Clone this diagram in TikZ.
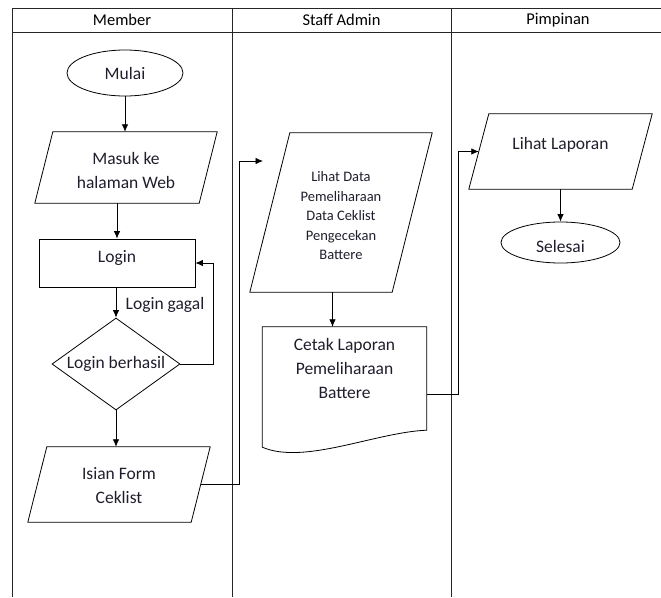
\documentclass[tikz,border=0pt]{standalone}
\usepackage{fontspec}
\setmainfont{Carlito}
\usetikzlibrary{shapes.geometric,arrows.meta}
\definecolor{ink}{RGB}{30,30,45}
% outline of a right-leaning parallelogram over a box node: #1 node, #2 slant
\newcommand\parashape[2]{%
  \draw[line width=0.8pt] (#1.south west) -- ([xshift=-#2]#1.south east)
    -- (#1.north east) -- ([xshift=#2]#1.north west) -- cycle;}
\begin{document}
\begin{tikzpicture}[x=1pt,y=-1pt,
  every node/.style={font=\fontsize{17.5}{24}\selectfont, text=ink, align=center},
  hdr/.style={font=\fontsize{16.5}{20}\selectfont, text=black},
  small/.style={font=\fontsize{14.5}{19.5}\selectfont},
  lane/.style={line width=0.8pt, draw=black!85},
  shp/.style={draw, line width=0.8pt, inner sep=1pt},
  term/.style={shp, ellipse},
  io/.style={rectangle, inner sep=0pt},
  proc/.style={shp, rectangle},
  decide/.style={shp, diamond},
  intext/.style 2 args={label={[yshift=#1]center:#2}},
  arr/.style={line width=0.8pt, -{Latex[length=7.5pt,width=6.5pt]}}
]
\useasboundingbox (0,0) rectangle (661,597);

% swimlane frame
\draw[lane] (12,8) -- (661,8);
\draw[lane] (12,32) -- (661,32);
\draw[lane] (12,8) -- (12,597);
\draw[lane] (232,8) -- (232,597);
\draw[lane] (451,8) -- (451,597);
\node[hdr] (hMember) at (122,20) {Member};
\node[hdr] (hStaff) at (341.5,20) {Staff Admin};
\node[hdr] (hPimpinan) at (558,20) {Pimpinan};

% Member lane
\node[term, minimum width=116pt, minimum height=46pt] (mulai) at (125,73) {Mulai};
\node[io, minimum width=182pt, minimum height=71pt, intext={-2.5pt}{Masuk ke\\halaman Web}] (masuk) at (126,167.5) {};
\parashape{masuk}{18pt}
\node[proc, minimum width=156pt, minimum height=48pt, intext={5pt}{Login}] (login) at (117,263) {};
\node[decide, minimum width=128pt, minimum height=92pt, intext={0pt}{Login berhasil}] (cek) at (116,364) {};
\node (gagal) at (165,305) {Login gagal};
\node[io, minimum width=182pt, minimum height=75pt, intext={-1pt}{Isian Form\\Ceklist}] (isian) at (119,484.5) {};
\parashape{isian}{19pt}

% Staff Admin lane
\node[io, minimum width=182pt, minimum height=159pt,
  label={[small, yshift=-3.5pt]center:Lihat Data\\Pemeliharaan\\Data Ceklist\\Pengecekan\\Battere}] (data) at (341,212.5) {};
\parashape{data}{40pt}
\node[minimum width=164pt, minimum height=120pt] (cetak) at (344.5,387) {};
\draw[line width=0.8pt] (cetak.south west) -- (cetak.north west) -- (cetak.north east)
  -- ([yshift=17pt]cetak.south east)
  .. controls ([shift={(-51pt,15pt)}]cetak.south east) and ([shift={(42pt,-18pt)}]cetak.south west)
  .. (cetak.south west) -- cycle;
\node (cetakTxt) at ([yshift=18.5pt]cetak.center) {Cetak Laporan\\Pemeliharaan\\Battere};

% Pimpinan lane
\node[io, minimum width=183pt, minimum height=75pt, intext={6.5pt}{Lihat Laporan}] (lap) at (560.5,151.5) {};
\parashape{lap}{20pt}
\node[term, minimum width=119pt, minimum height=41pt, intext={-4pt}{Selesai}] (selesai) at (560.5,242.5) {};

% connectors
\coordinate (inData) at (263,161);
\draw[arr] (mulai.south) -- (mulai.south |- masuk.north);
\draw[arr] (login.north |- masuk.south) -- (login.north);
\draw[arr] (cek.north |- login.south) -- (cek.north);
\draw[arr] (cek.east) -- ++(33,0) |- (login.east);
\draw[arr] (cek.south) -- (cek.south |- isian.north);
\draw[arr] ([xshift=-9.5pt]isian.east) -- ++(39,0) |- (inData);
\draw[arr] ([xshift=-12pt]cetak.north |- data.south) -- ([xshift=-12pt]cetak.north);
\draw[arr] ([yshift=-7pt]cetak.east) -- ++(32,0) |- ([xshift=10pt]lap.west);
\draw[arr] (lap.south) -- (selesai.north);
\end{tikzpicture}
\end{document}
